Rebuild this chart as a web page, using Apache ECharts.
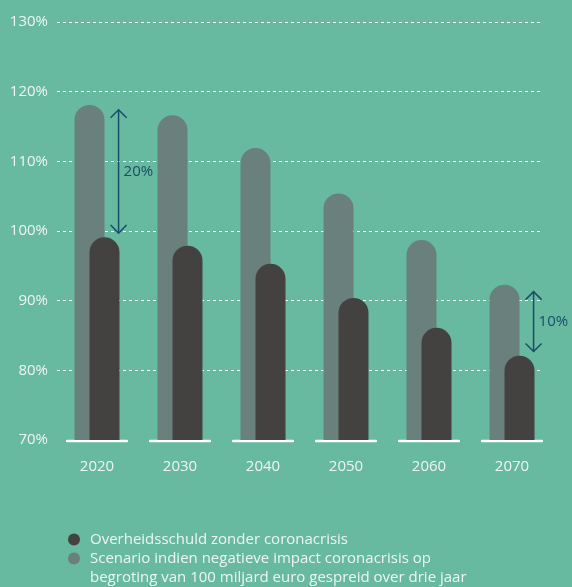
<!DOCTYPE html>
<html><head><meta charset="utf-8">
<script src="https://cdn.jsdelivr.net/npm/echarts@6/dist/echarts.min.js"></script>
<style>html,body{margin:0;padding:0;background:#67b99f;}#c{width:572px;height:587px;}</style>
</head><body><div id="c"></div>
<script>
const categories = ['2020','2030','2040','2050','2060','2070'];
const scenarioValues = [118.1, 116.6, 111.9, 105.4, 98.7, 92.3];
const baseValues = [99.1, 97.9, 95.3, 90.4, 86.1, 82.1];
const yTicks = [70, 80, 90, 100, 110, 120, 130];
const arrowCats = [0, 5];
const arrowFrom = [99.7, 82.7];
const arrowTo = [117.4, 91.3];
const arrowLabels = ['20%', '10%'];
const seriesNames = ['Overheidsschuld zonder coronacrisis',
  'Scenario indien negatieve impact coronacrisis op\nbegroting van 100 miljard euro gespreid over drie jaar'];

const FONT = 'Open Sans';
const WHITE = '#eef6f2';
const BLUE = '#1b4c6b';
const COL_BASE = '#434240';
const COL_SCEN = '#6a807d';
const chart = echarts.init(document.getElementById('c'));
chart.setOption({
  backgroundColor: '#67b99f',
  animation: false,
  textStyle: { fontFamily: FONT },
  grid: [
    { left: 57, right: 31, top: 22, bottom: 147 },
    { left: 55.5, right: 18.5, top: 22, bottom: 147 }
  ],
  xAxis: [
    { type: 'category', gridIndex: 0, data: categories, show: false },
    { type: 'category', gridIndex: 1, data: categories,
      axisLine: { show: false }, axisTick: { show: false },
      axisLabel: { color: WHITE, fontSize: 15, margin: 19, fontFamily: FONT } }
  ],
  yAxis: [
    { type: 'value', gridIndex: 0, min: yTicks[0], max: yTicks[yTicks.length-1], interval: 10,
      axisLine: { show: false }, axisTick: { show: false },
      axisLabel: { color: WHITE, fontSize: 15, margin: 9, formatter: v => v + '%', fontFamily: FONT },
      splitLine: { show: true, showMinLine: false, lineStyle: { color: '#ffffff', type: [3, 3], width: 1 } } },
    { type: 'value', gridIndex: 1, min: yTicks[0], max: yTicks[yTicks.length-1], interval: 10, show: false,
      splitLine: { show: false } }
  ],
  graphic: [
    { type: 'circle', shape: { cx: 74, cy: 539.5, r: 6 }, style: { fill: COL_BASE } },
    { type: 'circle', shape: { cx: 74, cy: 558.5, r: 6 }, style: { fill: COL_SCEN } },
    { type: 'text', x: 90, y: 540, style: { text: seriesNames[0], fill: WHITE, fontSize: 15, fontFamily: FONT, verticalAlign: 'middle' } },
    { type: 'text', x: 90, y: 549.5, style: { text: seriesNames[1], fill: WHITE, fontSize: 15, lineHeight: 19, fontFamily: FONT, verticalAlign: 'top' } }
  ],
  series: [
    { name: seriesNames[1], type: 'bar', xAxisIndex: 1, yAxisIndex: 1, data: scenarioValues,
      barWidth: 30, barGap: '-50%', itemStyle: { color: COL_SCEN, borderRadius: [15, 15, 0, 0] } },
    { name: seriesNames[0], type: 'bar', xAxisIndex: 1, yAxisIndex: 1, data: baseValues,
      barWidth: 30, itemStyle: { color: COL_BASE, borderRadius: [15, 15, 0, 0] } },
    { type: 'custom', xAxisIndex: 1, yAxisIndex: 1, clip: false, silent: true,
      data: categories.map((c, i) => [i, yTicks[0]]),
      renderItem: (params, api) => {
        const p = api.coord([api.value(0), api.value(1)]);
        const bw = api.size([1, 0])[0];
        return { type: 'line', shape: { x1: p[0] - bw * 0.36, y1: p[1] + 1, x2: p[0] + bw * 0.36, y2: p[1] + 1 },
          style: { stroke: '#ffffff', lineWidth: 2.5, lineCap: 'round' } };
      } },
    { type: 'custom', xAxisIndex: 1, yAxisIndex: 1, clip: false, silent: true,
      data: arrowCats.map((c, i) => [c, arrowFrom[i], arrowTo[i], arrowLabels[i]]),
      renderItem: (params, api) => {
        const bw = api.size([1, 0])[0];
        const top = api.coord([api.value(0), api.value(2)]);
        const bot = api.coord([api.value(0), api.value(1)]);
        const x = top[0] + bw * 0.26;
        const h = 8;
        const st = { stroke: BLUE, lineWidth: 1.5, fill: null };
        return { type: 'group', children: [
          { type: 'line', shape: { x1: x, y1: top[1], x2: x, y2: bot[1] }, style: st },
          { type: 'polyline', shape: { points: [[x - h, top[1] + h], [x, top[1]], [x + h, top[1] + h]] }, style: st },
          { type: 'polyline', shape: { points: [[x - h, bot[1] - h], [x, bot[1]], [x + h, bot[1] - h]] }, style: st },
          { type: 'text', x: x + 5, y: (top[1] + bot[1]) / 2,
            style: { text: api.value(3), fill: BLUE, fontSize: 15, fontFamily: FONT, verticalAlign: 'middle', align: 'left' } }
        ] };
      } }
  ]
});
</script></body></html>
